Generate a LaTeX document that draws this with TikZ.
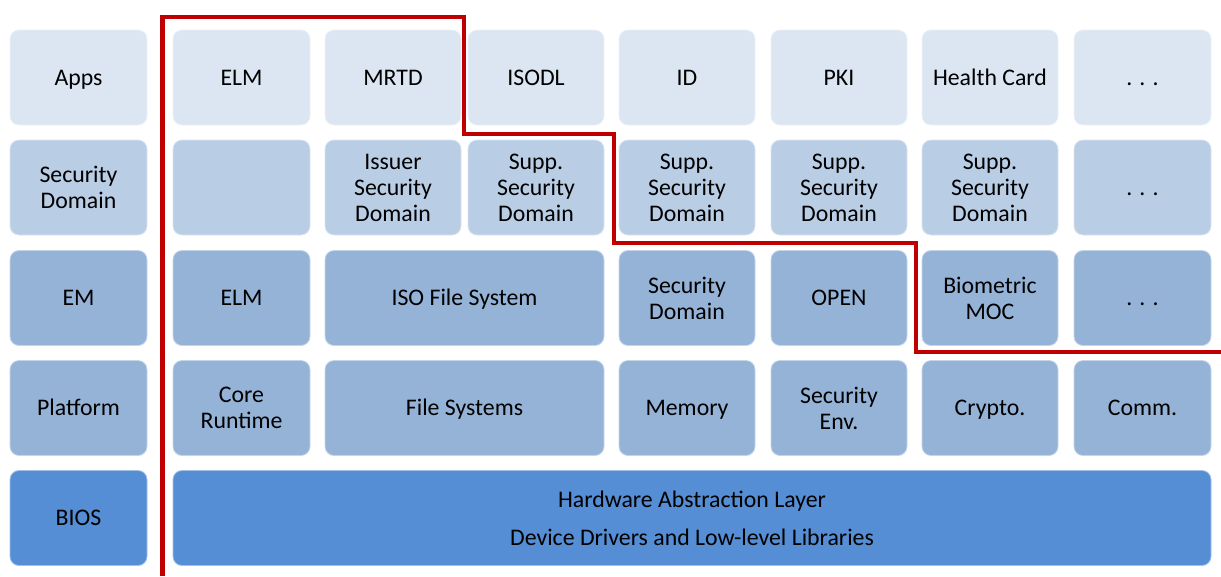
\documentclass[tikz,border=0pt]{standalone}
\usepackage{fontspec}
\setmainfont{Carlito}
\definecolor{rowapp}{HTML}{DCE6F2}
\definecolor{rowsd}{HTML}{B9CDE5}
\definecolor{rowem}{HTML}{95B3D7}
\definecolor{rowbios}{HTML}{558ED5}
\definecolor{borderred}{HTML}{C00000}
% struts that keep single-line capitals centred in a box
\newcommand{\topstrut}{\rule{0pt}{20.5pt}}
\newcommand{\botstrut}{\rule[-5.1pt]{0pt}{5.1pt}}
\begin{document}
\begin{tikzpicture}[x=1pt,y=-1pt,
  blk/.style={fill=#1, draw=#1!55!white, line width=0.8pt, rounded corners=9pt,
    minimum height=95pt, inner sep=0pt, align=center,
    font=\fontsize{23.8}{26}\selectfont, text=black,
    execute at begin node=\topstrut, execute at end node=\botstrut},
  mltext/.style={inner sep=0pt, align=center, text=black,
    font=\fontsize{23.8}{26}\selectfont},
  w1/.style={minimum width=137pt},
  w2/.style={minimum width=136pt},
  wide/.style={minimum width=279pt},
  redline/.style={draw=borderred, line width=4.6pt, line join=miter}]
\useasboundingbox (0,0) rectangle (1221,576);

% row 0: applications
\node[blk=rowapp,w1] (apps)  at (78.5,77.5) {Apps};
\node[blk=rowapp,w1] (aelm)  at (241.5,77.5) {ELM};
\node[blk=rowapp,w2] (mrtd)  at (393,77.5) {MRTD};
\node[blk=rowapp,w2] (isodl) at (536,77.5) {ISODL};
\node[blk=rowapp,w2] (id)    at (687,77.5) {ID};
\node[blk=rowapp,w2] (pki)   at (839,77.5) {PKI};
\node[blk=rowapp,w2] (hc)    at (990,77.5) {Health Card};
\node[blk=rowapp,w1] (adots) at (1142.5,77.5) {. . .};

% row 1: security domains
\node[blk=rowsd,w1] (sd)     at (78.5,187.5) {};
\node[blk=rowsd,w1] (sdel)   at (241.5,187.5) {};
\node[blk=rowsd,w2] (isd)    at (393,187.5) {};
\node[blk=rowsd,w2] (ssd1)   at (536,187.5) {};
\node[blk=rowsd,w2] (ssd2)   at (687,187.5) {};
\node[blk=rowsd,w2] (ssd3)   at (839,187.5) {};
\node[blk=rowsd,w2] (ssd4)   at (990,187.5) {};
\node[blk=rowsd,w1] (sddots) at (1142.5,187.5) {. . .};
\node[mltext] (sdt)   at (sd.center)   {Security\\Domain};
\node[mltext] (isdt)  at (isd.center)  {Issuer\\Security\\Domain};
\node[mltext] (ssd1t) at (ssd1.center) {Supp.\\Security\\Domain};
\node[mltext] (ssd2t) at (ssd2.center) {Supp.\\Security\\Domain};
\node[mltext] (ssd3t) at (ssd3.center) {Supp.\\Security\\Domain};
\node[mltext] (ssd4t) at (ssd4.center) {Supp.\\Security\\Domain};

% row 2: executable modules
\node[blk=rowem,w1] (em)     at (78.5,298) {EM};
\node[blk=rowem,w1] (eelm)   at (241.5,298) {ELM};
\node[blk=rowem,wide] (isofs) at (464.5,298) {ISO File System};
\node[blk=rowem,w2] (esd)    at (687,298) {};
\node[blk=rowem,w2] (open)   at (839,298) {OPEN};
\node[blk=rowem,w2] (bio)    at (990,298) {};
\node[blk=rowem,w1] (edots)  at (1142.5,298) {. . .};
\node[mltext] (esdt) at (esd.center) {Security\\Domain};
\node[mltext] (biot) at (bio.center) {Biometric\\MOC};

% row 3: platform
\node[blk=rowem,w1] (plat)   at (78.5,408) {Platform};
\node[blk=rowem,w1] (core)   at (241.5,408) {};
\node[blk=rowem,wide] (fs)   at (464.5,408) {File Systems};
\node[blk=rowem,w2] (mem)    at (687,408) {Memory};
\node[blk=rowem,w2] (senv)   at (839,408) {};
\node[blk=rowem,w2] (crypto) at (990,408) {Crypto.};
\node[blk=rowem,w1] (comm)   at (1142.5,408) {Comm.};
\node[mltext] (coret) at (core.center) {Core\\Runtime};
\node[mltext] (senvt) at (senv.center) {Security\\Env.};

% row 4: BIOS
\node[blk=rowbios,w1] (bios) at (78.5,518) {BIOS};
\node[blk=rowbios,minimum width=1038pt] (hal) at (692,518) {};
\node[mltext,font=\fontsize{23.8}{38}\selectfont] (halt) at (hal.center)
  {Hardware Abstraction Layer\\Device Drivers and Low-level Libraries};

% staircase boundary
\draw[redline] (162.5,576) -- (162.5,17) -- (464,17) -- (464,134)
  -- (614,134) -- (614,243) -- (916,243) -- (916,352) -- (1221,352);
\end{tikzpicture}
\end{document}
